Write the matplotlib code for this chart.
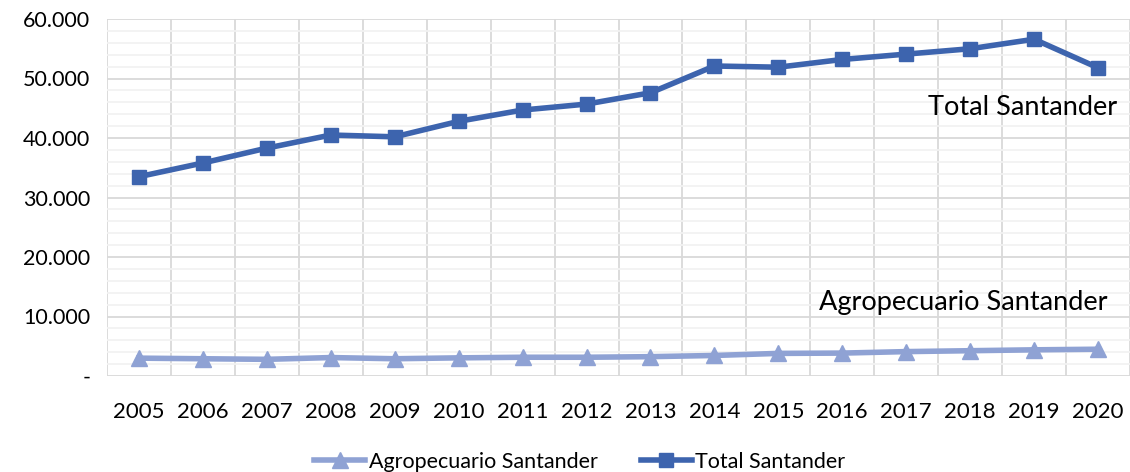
import matplotlib.pyplot as plt
from matplotlib.ticker import MultipleLocator, FuncFormatter

# Data
years = [str(y) for y in range(2005, 2021)]
total_santander = [33500, 35800, 38300, 40500, 40200, 42800, 44700, 45700,
                   47600, 52100, 51900, 53200, 54100, 55000, 56600, 51800]
agro_santander = [3000, 2900, 2800, 3100, 2900, 3050, 3150, 3150,
                  3250, 3450, 3800, 3850, 4100, 4250, 4400, 4500]

plt.rcParams['font.family'] = ['Lato', 'DejaVu Sans']

fig = plt.figure(figsize=(11.3, 4.72), dpi=100)
ax = fig.add_axes([107 / 1130, 1 - 376 / 472, 1023 / 1130, 357 / 472])

x = range(len(years))
ax.plot(x, agro_santander, color='#8FA2D4', lw=4, marker='^', ms=11,
        label='Agropecuario Santander', zorder=3)
ax.plot(x, total_santander, color='#3D64AE', lw=4, marker='s', ms=10,
        label='Total Santander', zorder=4)

ax.set_xlim(-0.5, len(years) - 0.5)
ax.set_ylim(0, 60000)
ax.set_xticks(list(x))
ax.set_xticklabels(years)
ax.yaxis.set_major_locator(MultipleLocator(10000))
ax.yaxis.set_minor_locator(MultipleLocator(2000))
ax.yaxis.set_major_formatter(FuncFormatter(
    lambda v, p: '-' if v == 0 else f'{int(v):,}'.replace(',', '.')))

# gridlines at category boundaries
for b in range(len(years) + 1):
    ax.axvline(b - 0.5, color='#D9D9D9', lw=1.3, zorder=1)
ax.grid(axis='y', which='major', color='#D9D9D9', lw=1.3, zorder=1)
ax.grid(axis='y', which='minor', color='#F2F2F2', lw=1.3, zorder=0)
for s in ax.spines.values():
    s.set_visible(False)

ax.tick_params(axis='both', which='both', length=0)
ax.tick_params(axis='x', pad=19, labelsize=16)
ax.tick_params(axis='y', pad=12, labelsize=15.5)

ax.text(len(years) - 0.7, 45200, 'Total Santander', fontsize=19.5,
        ha='right', va='center')
ax.text(len(years) - 0.85, 12400, 'Agropecuario Santander', fontsize=19.5,
        ha='right', va='center')

fig.legend(loc='lower center', bbox_to_anchor=(0.513, -0.04), ncol=2,
           frameon=False, fontsize=15.5, handlelength=2.4, columnspacing=2.0,
           handletextpad=0.15)

fig.savefig('out.png', dpi=100)
